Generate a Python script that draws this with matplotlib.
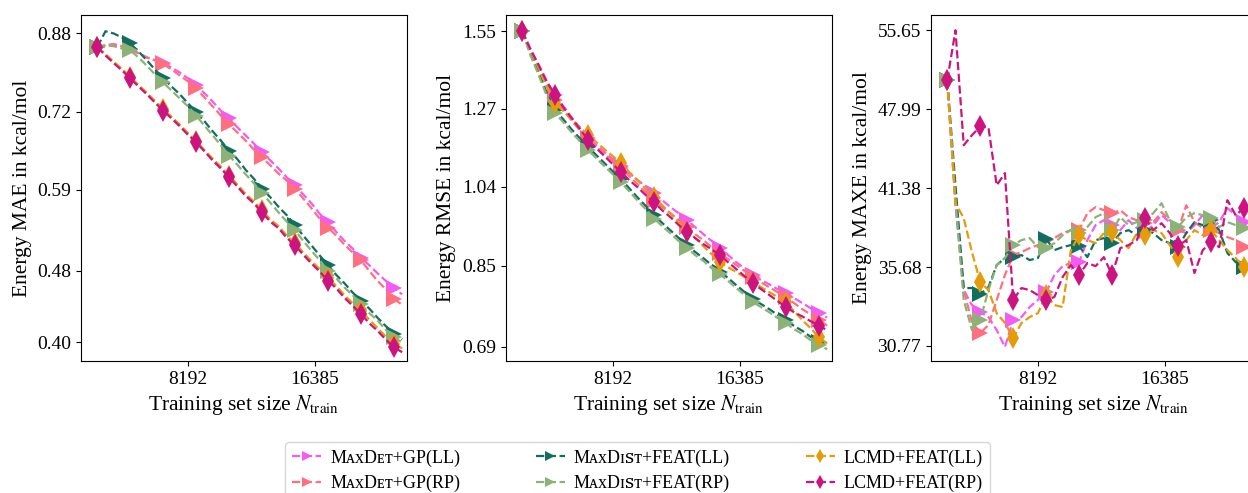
import matplotlib.pyplot as plt
from matplotlib.ticker import NullLocator

plt.rcParams['font.family'] = ['Liberation Serif', 'DejaVu Serif', 'DejaVu Sans']
plt.rcParams['mathtext.fontset'] = 'stix'

# training set sizes (one point per AL step, markers every 4th step)
n_train = [5000, 5230, 5471, 5722, 5986, 6261, 6549, 6851, 7166, 7496,
           7840, 8201, 8578, 8973, 9386, 9818, 10269, 10742, 11236, 11753,
           12293, 12859, 13450, 14069, 14716, 15393, 16102, 16842, 17617, 18428,
           19275, 20162, 21090, 22060, 23074, 24136, 25246, 26407]

labels = ['MᴀxDᴇᴛ+GP(LL)', 'MᴀxDᴇᴛ+GP(RP)', 'MᴀxDɪꜱᴛ+FEAT(LL)',
          'MᴀxDɪꜱᴛ+FEAT(RP)', 'LCMD+FEAT(LL)', 'LCMD+FEAT(RP)']
colors = ['#f25cf2', '#ff6f7f', '#126e5f', '#8cb278', '#e69b0a', '#cc1480']
markers = ['>', '>', '>', '>', 'd', 'd']

# Energy MAE
mae_maxdet_ll = [0.849, 0.853, 0.855, 0.851, 0.844, 0.836, 0.827, 0.821, 0.815, 0.806,
                 0.796, 0.784, 0.770, 0.755, 0.739, 0.722, 0.708, 0.692, 0.678, 0.664,
                 0.649, 0.636, 0.623, 0.609, 0.597, 0.583, 0.570, 0.555, 0.543, 0.530,
                 0.518, 0.508, 0.496, 0.487, 0.477, 0.468, 0.459, 0.452]
mae_maxdet_rp = [0.849, 0.853, 0.855, 0.851, 0.844, 0.836, 0.827, 0.821, 0.813, 0.802,
                 0.790, 0.778, 0.764, 0.747, 0.730, 0.713, 0.697, 0.683, 0.669, 0.654,
                 0.641, 0.628, 0.615, 0.604, 0.592, 0.577, 0.563, 0.548, 0.536, 0.525,
                 0.513, 0.503, 0.493, 0.480, 0.468, 0.458, 0.447, 0.440]
mae_maxdist_ll = [0.849, 0.884, 0.879, 0.870, 0.857, 0.840, 0.821, 0.802, 0.784, 0.768,
                  0.753, 0.736, 0.719, 0.703, 0.685, 0.669, 0.652, 0.638, 0.621, 0.607,
                  0.592, 0.579, 0.565, 0.553, 0.539, 0.525, 0.512, 0.499, 0.487, 0.475,
                  0.465, 0.454, 0.445, 0.436, 0.426, 0.417, 0.409, 0.403]
mae_maxdist_rp = [0.849, 0.853, 0.851, 0.846, 0.842, 0.827, 0.810, 0.792, 0.776, 0.760,
                  0.745, 0.730, 0.713, 0.695, 0.678, 0.661, 0.644, 0.629, 0.614, 0.600,
                  0.585, 0.571, 0.557, 0.544, 0.532, 0.518, 0.505, 0.493, 0.480, 0.471,
                  0.460, 0.451, 0.441, 0.431, 0.423, 0.413, 0.405, 0.400]
mae_lcmd_ll = [0.849, 0.834, 0.818, 0.803, 0.787, 0.771, 0.756, 0.740, 0.725, 0.711,
               0.697, 0.682, 0.668, 0.653, 0.639, 0.626, 0.612, 0.598, 0.584, 0.573,
               0.560, 0.547, 0.538, 0.525, 0.515, 0.503, 0.492, 0.482, 0.471, 0.462,
               0.451, 0.442, 0.433, 0.424, 0.415, 0.406, 0.398, 0.394]
mae_lcmd_rp = [0.849, 0.831, 0.815, 0.800, 0.784, 0.768, 0.753, 0.737, 0.722, 0.708,
               0.694, 0.679, 0.666, 0.651, 0.636, 0.623, 0.609, 0.595, 0.581, 0.570,
               0.557, 0.544, 0.535, 0.522, 0.512, 0.500, 0.489, 0.479, 0.468, 0.459,
               0.448, 0.439, 0.430, 0.420, 0.412, 0.403, 0.395, 0.390]

# Energy RMSE
rmse_maxdet_ll = [1.550, 1.480, 1.421, 1.364, 1.316, 1.279, 1.243, 1.209, 1.178, 1.157,
                  1.137, 1.116, 1.096, 1.077, 1.058, 1.042, 1.023, 1.005, 0.987, 0.972,
                  0.955, 0.938, 0.921, 0.905, 0.889, 0.873, 0.857, 0.844, 0.829, 0.819,
                  0.810, 0.800, 0.792, 0.782, 0.772, 0.762, 0.752, 0.744]
rmse_maxdet_rp = [1.550, 1.476, 1.413, 1.350, 1.299, 1.266, 1.233, 1.202, 1.172, 1.151,
                  1.131, 1.111, 1.091, 1.069, 1.047, 1.026, 1.004, 0.987, 0.972, 0.955,
                  0.938, 0.921, 0.907, 0.891, 0.877, 0.864, 0.851, 0.838, 0.825, 0.814,
                  0.804, 0.794, 0.784, 0.772, 0.760, 0.750, 0.739, 0.729]
rmse_maxdist_ll = [1.550, 1.465, 1.395, 1.322, 1.266, 1.236, 1.205, 1.178, 1.152, 1.128,
                   1.105, 1.082, 1.060, 1.036, 1.012, 0.990, 0.967, 0.948, 0.930, 0.912,
                   0.896, 0.880, 0.866, 0.851, 0.837, 0.823, 0.808, 0.794, 0.780, 0.770,
                   0.760, 0.749, 0.739, 0.728, 0.719, 0.708, 0.699, 0.692]
rmse_maxdist_rp = [1.550, 1.457, 1.385, 1.312, 1.256, 1.227, 1.196, 1.169, 1.143, 1.119,
                   1.096, 1.074, 1.052, 1.028, 1.004, 0.982, 0.959, 0.940, 0.923, 0.905,
                   0.889, 0.873, 0.860, 0.844, 0.831, 0.817, 0.802, 0.788, 0.774, 0.764,
                   0.754, 0.743, 0.733, 0.722, 0.713, 0.702, 0.693, 0.686]
rmse_lcmd_ll = [1.550, 1.476, 1.410, 1.343, 1.289, 1.263, 1.237, 1.212, 1.187, 1.166,
                1.145, 1.125, 1.105, 1.080, 1.058, 1.034, 1.013, 0.992, 0.970, 0.950,
                0.930, 0.912, 0.893, 0.875, 0.857, 0.846, 0.836, 0.825, 0.814, 0.804,
                0.794, 0.784, 0.774, 0.756, 0.739, 0.724, 0.707, 0.696]
rmse_lcmd_rp = [1.550, 1.480, 1.421, 1.360, 1.316, 1.275, 1.240, 1.206, 1.172, 1.148,
                1.125, 1.102, 1.080, 1.058, 1.039, 1.018, 1.000, 0.979, 0.962, 0.943,
                0.926, 0.912, 0.898, 0.886, 0.873, 0.857, 0.842, 0.827, 0.812, 0.800,
                0.788, 0.776, 0.764, 0.754, 0.746, 0.737, 0.729, 0.720]

# Energy MAXE
maxe_maxdet_ll = [50.66, 40.07, 34.17, 33.22, 32.78, 32.48, 31.70, 30.71, 32.30, 32.48,
                  33.10, 33.54, 34.04, 35.15, 35.74, 35.95, 36.01, 37.53, 38.60, 38.96,
                  38.60, 38.24, 38.96, 38.39, 38.10, 38.60, 39.33, 38.82, 38.24, 38.03,
                  38.60, 39.33, 38.39, 38.82, 39.85, 39.33, 38.82, 38.96]
maxe_maxdet_rp = [50.66, 40.45, 34.17, 32.18, 31.52, 32.00, 33.54, 35.15, 36.49, 36.70,
                  36.97, 37.18, 37.53, 37.67, 38.03, 38.24, 38.24, 39.48, 39.93, 39.70,
                  39.48, 39.70, 39.18, 38.96, 38.74, 38.82, 39.55, 38.96, 38.24, 40.07,
                  38.82, 38.39, 38.24, 38.03, 37.74, 37.53, 37.04, 37.18]
maxe_maxdist_ll = [50.66, 41.60, 34.30, 34.30, 33.91, 34.36, 35.81, 36.29, 36.35, 36.49,
                   36.15, 36.29, 37.60, 36.83, 37.04, 37.18, 37.11, 36.35, 37.53, 37.67,
                   37.32, 38.03, 38.24, 37.88, 38.24, 38.03, 37.53, 37.32, 37.04, 38.03,
                   38.82, 38.60, 38.96, 38.24, 36.63, 36.01, 35.68, 36.15]
maxe_maxdist_rp = [50.66, 40.45, 33.54, 31.70, 32.30, 34.17, 35.81, 36.29, 37.18, 37.53,
                   37.67, 37.04, 36.97, 37.32, 37.88, 38.24, 38.03, 38.46, 39.18, 39.48,
                   38.24, 39.18, 38.60, 38.82, 38.96, 39.48, 40.22, 38.96, 38.46, 39.18,
                   39.48, 39.33, 39.11, 38.46, 38.82, 38.60, 38.39, 38.60]
maxe_lcmd_ll = [50.66, 40.22, 39.11, 36.70, 34.69, 34.17, 32.72, 32.12, 31.23, 32.12,
                32.48, 32.72, 33.85, 33.22, 33.10, 36.83, 37.88, 37.53, 37.32, 38.03,
                38.10, 37.53, 36.97, 38.03, 37.88, 38.24, 38.03, 37.18, 36.35, 37.53,
                38.24, 37.88, 38.24, 37.53, 36.83, 36.29, 35.68, 36.01]
maxe_lcmd_rp = [50.66, 55.65, 44.85, 45.70, 46.46, 46.38, 41.60, 42.56, 33.54, 34.30,
                34.17, 33.85, 33.54, 33.73, 35.02, 35.81, 35.15, 35.95, 35.74, 36.35,
                35.15, 36.97, 37.18, 37.53, 39.11, 38.24, 38.74, 38.03, 37.11, 37.53,
                35.28, 36.83, 37.39, 37.04, 40.45, 39.33, 39.85, 40.07]

panels = [
    ([mae_maxdet_ll, mae_maxdet_rp, mae_maxdist_ll, mae_maxdist_rp, mae_lcmd_ll, mae_lcmd_rp],
     'Energy MAE in kcal/mol', [0.40, 0.48, 0.59, 0.72, 0.88], (0.3814, 0.9214)),
    ([rmse_maxdet_ll, rmse_maxdet_rp, rmse_maxdist_ll, rmse_maxdist_rp, rmse_lcmd_ll, rmse_lcmd_rp],
     'Energy RMSE in kcal/mol', [0.69, 0.85, 1.04, 1.27, 1.55], (0.6656, 1.616)),
    ([maxe_maxdet_ll, maxe_maxdet_rp, maxe_maxdist_ll, maxe_maxdist_rp, maxe_lcmd_ll, maxe_lcmd_rp],
     'Energy MAXE in kcal/mol', [30.77, 35.68, 41.38, 47.99, 55.65], (29.91, 57.27)),
]

W, H = 1248, 493
fig = plt.figure(figsize=(W / 100, H / 100), dpi=100)

for left_px, (series, ylabel, yticks, ylim) in zip([81, 506, 931], panels):
    ax = fig.add_axes([left_px / W, 1 - 361 / H, 326 / W, 346 / H])
    for vals, lab, c, m in zip(series, labels, colors, markers):
        ax.plot(n_train, vals, linestyle='--', color=c, marker=m, markersize=11,
                markevery=4, markeredgewidth=0, linewidth=1.6, label=lab)
    ax.set_xscale('log')
    ax.set_yscale('log')
    ax.set_xlim(4576, 27113)
    ax.set_ylim(*ylim)
    ax.xaxis.set_minor_locator(NullLocator())
    ax.yaxis.set_minor_locator(NullLocator())
    ax.set_xticks([8192, 16385])
    ax.set_xticklabels(['8192', '16385'])
    ax.set_yticks(yticks)
    ax.set_yticklabels(['%.2f' % t for t in yticks])
    ax.tick_params(labelsize=14)
    ax.set_xlabel(r'Training set size $N_{\mathrm{train}}$', fontsize=15.5)
    ax.set_ylabel(ylabel, fontsize=15.5)

handles, labs = ax.get_legend_handles_labels()
fig.legend(handles, labs, loc='upper left', bbox_to_anchor=(285 / W, 1 - 442 / H, 705 / W, 0),
           mode='expand', borderaxespad=0, ncol=3, fontsize=13, markerscale=0.65,
           handlelength=1.6, handletextpad=0.5, labelspacing=0.45)

fig.savefig('out.png', dpi=100)
